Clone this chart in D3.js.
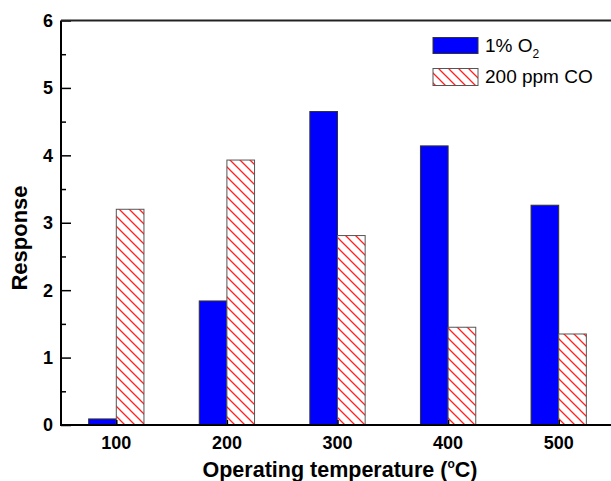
<!DOCTYPE html>
<html>
<head>
<meta charset="utf-8">
<script src="https://cdn.jsdelivr.net/npm/d3@7"></script>
<style>
  body { margin: 0; background: #fff; }
  svg { display: block; font-family: "Liberation Sans", Arial, Helvetica, sans-serif; }
</style>
</head>
<body>
<div id="chart"></div>
<script>
// data
const temps = [100, 200, 300, 400, 500];
const o2Response = [0.09, 1.84, 4.65, 4.14, 3.26];
const coResponse = [3.2, 3.93, 2.81, 1.45, 1.35];
const yTicks = [0, 1, 2, 3, 4, 5, 6];

const width = 611, height = 481;
const margin = { top: 20.5, left: 61, bottom: 56, right: -3 };

const svg = d3.select("#chart").append("svg")
  .attr("width", width)
  .attr("height", height);

// hatch pattern for the CO bars
const defs = svg.append("defs");
const pat = defs.append("pattern")
  .attr("id", "hatch")
  .attr("patternUnits", "userSpaceOnUse")
  .attr("width", 10)
  .attr("height", 10);
pat.append("rect").attr("width", 10).attr("height", 10).attr("fill", "#fff");
pat.append("path")
  .attr("d", "M-1,-1 L11,11 M-1,9 L1,11 M9,-1 L11,1")
  .attr("stroke", "#ff2020")
  .attr("stroke-width", 1.3);

const x = d3.scaleLinear()
  .domain([50, 550])
  .range([margin.left, width - margin.right]);

const y = d3.scaleLinear()
  .domain([0, 6])
  .range([height - margin.bottom, margin.top]);

const barW = 25; // in temperature units

// bars
svg.selectAll("rect.o2")
  .data(temps)
  .join("rect")
  .attr("class", "o2")
  .attr("x", (d) => x(d - barW))
  .attr("y", (d, i) => y(o2Response[i]))
  .attr("width", (d) => x(d) - x(d - barW))
  .attr("height", (d, i) => y(0) - y(o2Response[i]))
  .attr("fill", "#0000ff")
  .attr("stroke", "#333")
  .attr("stroke-width", 1);

svg.selectAll("rect.co")
  .data(temps)
  .join("rect")
  .attr("class", "co")
  .attr("x", (d) => x(d))
  .attr("y", (d, i) => y(coResponse[i]))
  .attr("width", (d) => x(d + barW) - x(d))
  .attr("height", (d, i) => y(0) - y(coResponse[i]))
  .attr("fill", "url(#hatch)")
  .attr("stroke", "#555")
  .attr("stroke-width", 1);

// y axis, ticks inward
const yAxis = svg.append("g")
  .attr("transform", "translate(" + margin.left + ",0)")
  .call(d3.axisRight(y).tickValues(d3.range(0, 6.01, 0.5)).tickSize(10).tickFormat(""));
yAxis.select(".domain").remove();
yAxis.selectAll(".tick line")
  .attr("stroke", "#000")
  .attr("stroke-width", 1.5)
  .attr("x2", (d) => (d % 1 === 0 ? 10 : 5));

svg.append("g")
  .selectAll("text")
  .data(yTicks)
  .join("text")
  .attr("x", margin.left - 8)
  .attr("y", (d) => y(d))
  .attr("dy", "0.36em")
  .attr("text-anchor", "end")
  .style("font-size", "18px")
  .style("font-weight", "bold")
  .text((d) => d);

// x axis
const xAxis = svg.append("g")
  .attr("transform", "translate(0," + y(0) + ")")
  .call(d3.axisTop(x).tickValues(temps).tickSize(5).tickFormat(""));
xAxis.select(".domain").remove();
xAxis.selectAll(".tick line").attr("stroke", "#000").attr("stroke-width", 1.5);

svg.append("g")
  .selectAll("text")
  .data(temps)
  .join("text")
  .attr("x", (d) => x(d))
  .attr("y", 449)
  .attr("text-anchor", "middle")
  .style("font-size", "18px")
  .style("font-weight", "bold")
  .text((d) => d);

// frame
svg.append("path")
  .attr("d", "M" + margin.left + "," + y(6) + "V" + y(0) + "H" + (width + 5))
  .attr("fill", "none")
  .attr("stroke", "#000")
  .attr("stroke-width", 2);
svg.append("line")
  .attr("x1", margin.left).attr("x2", width + 5)
  .attr("y1", y(6)).attr("y2", y(6))
  .attr("stroke", "#222")
  .attr("stroke-width", 2);

// axis titles
const xt = svg.append("text")
  .attr("x", 340)
  .attr("y", 477)
  .attr("text-anchor", "middle")
  .style("font-size", "21.5px")
  .style("font-weight", "bold");
xt.append("tspan").text("Operating temperature (");
xt.append("tspan").attr("dy", -9).style("font-size", "12px").text("o");
xt.append("tspan").attr("dy", 9).text("C)");

svg.append("text")
  .attr("transform", "translate(27,238) rotate(-90)")
  .attr("text-anchor", "middle")
  .style("font-size", "22px")
  .style("font-weight", "bold")
  .text("Response");

// legend
const legend = svg.append("g");
legend.append("rect")
  .attr("x", 433).attr("y", 37.5)
  .attr("width", 45).attr("height", 16)
  .attr("fill", "#0000ff").attr("stroke", "#333");
legend.append("rect")
  .attr("x", 433).attr("y", 68.5)
  .attr("width", 45).attr("height", 17)
  .attr("fill", "url(#hatch)").attr("stroke", "#555");

const l1 = legend.append("text")
  .attr("x", 485).attr("y", 52)
  .style("font-size", "19px");
l1.append("tspan").text("1% O");
l1.append("tspan").attr("dy", 6).style("font-size", "12px").text("2");

legend.append("text")
  .attr("x", 485).attr("y", 83)
  .style("font-size", "19px")
  .text("200 ppm CO");
</script>
</body>
</html>
